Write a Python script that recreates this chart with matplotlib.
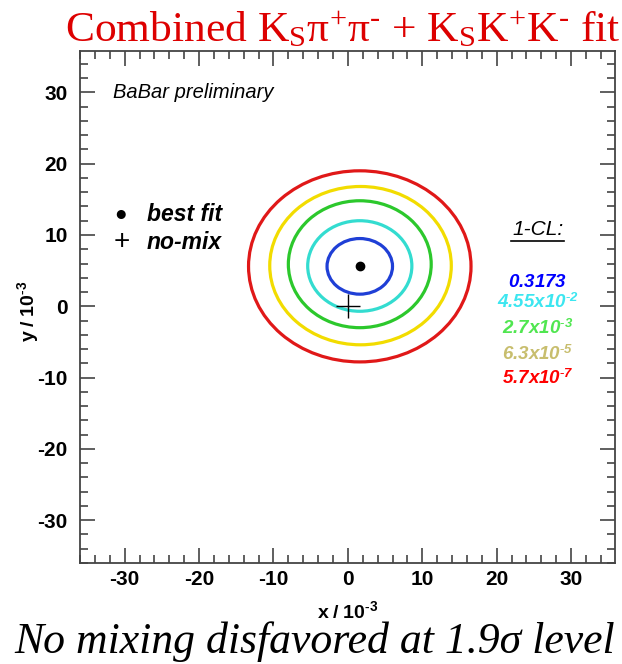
import numpy as np
import matplotlib
matplotlib.use('Agg')
import matplotlib.pyplot as plt
from matplotlib.patches import Ellipse
from matplotlib.ticker import MultipleLocator

plt.rcParams['font.family'] = ['Liberation Sans', 'DejaVu Sans']
plt.rcParams['axes.unicode_minus'] = False
plt.rcParams['mathtext.fontset'] = 'custom'
plt.rcParams['mathtext.rm'] = 'Liberation Serif'
plt.rcParams['mathtext.it'] = 'Liberation Serif:italic'
plt.rcParams['mathtext.bf'] = 'Liberation Sans:bold'
plt.rcParams['mathtext.bfit'] = 'Liberation Sans:bold:italic'

# best fit and no-mixing point (units of 1e-3)
best_fit = (1.6, 5.7)
no_mix = (0.0, 0.0)

# confidence contours, innermost first
cl_mant = ['0.3173', '4.55x10', '2.7x10', '6.3x10', '5.7x10']
cl_exp = ['', '-2', '-3', '-5', '-7']
cont_x0 = [1.6, 1.6, 1.6, 1.7, 1.6]
cont_y0 = [5.6, 5.65, 5.9, 5.7, 5.6]
cont_ax = [4.4, 7.0, 9.6, 12.2, 14.95]
cont_ay = [3.9, 6.35, 8.9, 11.1, 13.4]
line_colors = ['#1f3fd6', '#33dcd0', '#2cc82c', '#f2dc00', '#e01818']
text_colors = ['#0000ff', '#3ce6f0', '#50e650', '#c8be6e', '#ff0000']

fig = plt.figure(figsize=(6.22, 6.64), dpi=100)
ax = fig.add_axes([80/622, 1 - 563/664, 535/622, 512/664])

for x0, y0, a, b, c in zip(cont_x0, cont_y0, cont_ax, cont_ay, line_colors):
    ax.add_patch(Ellipse((x0, y0), 2*a, 2*b, fill=False, ec=c, lw=2.3))

ax.plot(*best_fit, 'o', color='k', ms=6)
ax.plot(*no_mix, '+', color='k', ms=17, mew=1.0)

ax.set_xlim(-36.0, 35.9)
ax.set_ylim(-36.0, 35.8)
ax.xaxis.set_major_locator(MultipleLocator(10))
ax.xaxis.set_minor_locator(MultipleLocator(2))
ax.yaxis.set_major_locator(MultipleLocator(10))
ax.yaxis.set_minor_locator(MultipleLocator(2))
ax.tick_params(which='both', direction='in', top=True, right=True, color='#444444', width=1.2)
ax.tick_params(which='major', length=11, labelsize=15)
ax.tick_params(axis='x', which='major', pad=5)
ax.tick_params(axis='y', which='major', pad=9)
ax.tick_params(which='minor', length=5.5)
for lab in ax.get_xticklabels() + ax.get_yticklabels():
    lab.set_fontweight('bold')
for s in ax.spines.values():
    s.set_color('#444444')
    s.set_linewidth(1.3)

ax.set_xlabel(r'$\mathbf{x\ /\ 10^{\text{-}3}}$', fontsize=14)
ax.set_ylabel(r'$\mathbf{y\ /\ 10^{\text{-}3}}$', fontsize=14)
ax.xaxis.set_label_coords(0.501, -0.072)
ax.yaxis.set_label_coords(-0.073, 0.492)

ax.text(113, 572, 'BaBar preliminary', transform=None, fontsize=14.5, style='italic', va='center')

# legend
ax.text(-30.6, 12.9, '\u25cf', fontsize=15, va='center', ha='center')
ax.text(-27.0, 12.9, 'best fit', fontsize=16.5, style='italic', weight='bold', va='center')
ax.text(-30.4, 9.0, '+', fontsize=20, va='center', ha='center')
ax.text(-27.0, 9.0, 'no-mix', fontsize=16.5, style='italic', weight='bold', va='center')

# 1-CL labels
ax.text(25.6, 10.7, '1-CL:', fontsize=15, style='italic', va='center', ha='center')
ax.plot([21.9, 29.0], [9.2, 9.2], color='k', lw=1.2)
cl_y = [3.4, 0.6, -3.1, -6.7, -10.1]
for m, e, yy, c in zip(cl_mant, cl_exp, cl_y, text_colors):
    s = r'$\mathbfit{%s}$' % m
    if e:
        s = r'$\mathbfit{%s}^{\mathbfit{\text{-}%s}}$' % (m, e[1:])
    ax.text(25.5, yy, s, fontsize=13.5, color=c, va='center', ha='center')

fig.text(65/622, 1 - 41/664, r'Combined K$_{\mathrm{S}}$π$^{\mathrm{+}}$π$^{\text{-}}$ + K$_{\mathrm{S}}$K$^{\mathrm{+}}$K$^{\text{-}}$ fit',
         family='Liberation Serif', fontsize=31.3, color='#dd0000', va='baseline', ha='left')
fig.text(14/622, 1 - 653/664, 'No mixing disfavored at 1.9σ level', family='Liberation Serif',
         style='italic', fontsize=31.5, color='k', va='baseline', ha='left')

fig.savefig('out.png', dpi=100)
